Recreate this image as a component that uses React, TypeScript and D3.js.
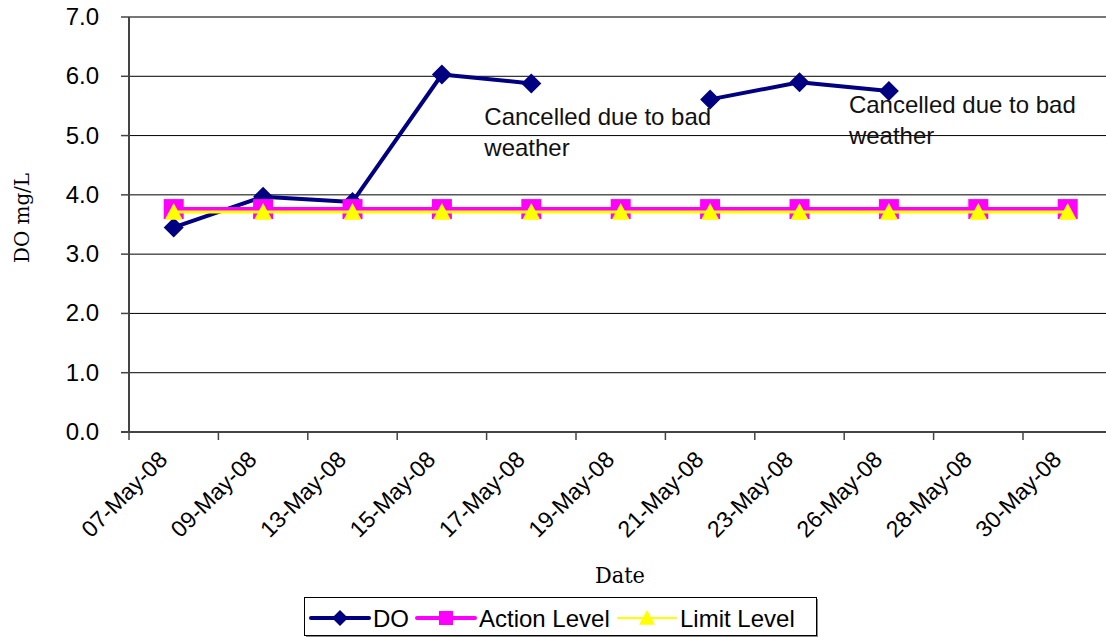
import React from 'react';
import * as d3 from 'd3';

const dates = ['07-May-08', '09-May-08', '13-May-08', '15-May-08', '17-May-08', '19-May-08',
  '21-May-08', '23-May-08', '26-May-08', '28-May-08', '30-May-08'];
const doValues: (number | null)[] = [3.45, 3.97, 3.88, 6.03, 5.88, null, 5.61, 5.9, 5.75, null, null];
const actionLevel = [3.76, 3.76, 3.76, 3.76, 3.76, 3.76, 3.76, 3.76, 3.76, 3.76, 3.76];
const limitLevel = [3.71, 3.71, 3.71, 3.71, 3.71, 3.71, 3.71, 3.71, 3.71, 3.71, 3.71];
const yTicks = [0, 1, 2, 3, 4, 5, 6, 7];
// notes placed relative to the point they follow
const notes = [
  { after: '17-May-08', lines: ['Cancelled due to bad', 'weather'], dx: -47, y0: 125 },
  { after: '26-May-08', lines: ['Cancelled due to bad', 'weather'], dx: -40, y0: 113 },
];

const W = 1106, H = 638;
const left = 129, top = 17, bottom = 432;
const band = 89.4;

const x = d3.scaleBand<string>().domain(dates).range([left, left + band * dates.length]);
const y = d3.scaleLinear().domain([0, 7]).range([bottom, top]);
const cx = (d: string) => (x(d) as number) + x.bandwidth() / 2;

const sans = 'Arial, "Liberation Sans", sans-serif';
const serif = '"DejaVu Serif", "Liberation Serif", serif';

const diamond = (s: number) => `M0,${-s}L${s},0L0,${s}L${-s},0Z`;
const square = (s: number) => `M${-s},${-s}H${s}V${s}H${-s}Z`;
const triangle = (s: number) => `M0,${-s}L${s},${s * 0.85}L${-s},${s * 0.85}Z`;

const Series = ({ values, color, width, marker }:
  { values: (number | null)[]; color: string; width: number; marker: string }) => {
  const line = d3.line<number | null>()
    .defined((d) => d !== null)
    .x((_, i) => cx(dates[i]))
    .y((d) => y(d as number));
  return (
    <g>
      <path d={line(values) || ''} fill="none" stroke={color} strokeWidth={width} strokeLinejoin="round" />
      {values.map((v, i) => v === null ? null : (
        <path key={i} d={marker} transform={`translate(${cx(dates[i])},${y(v)})`} fill={color} />
      ))}
    </g>
  );
};

export default function App() {
  const legend = [
    { label: 'DO', color: '#000080', width: 4, marker: diamond(8), x0: 311 },
    { label: 'Action Level', color: '#ff00ff', width: 4, marker: square(7), x0: 417 },
    { label: 'Limit Level', color: '#ffff00', width: 2, marker: triangle(8), x0: 618 },
  ];
  return (
    <svg width={W} height={H} style={{ position: 'absolute', left: 0, top: 0, background: '#fff' }}>
      {/* gridlines */}
      {yTicks.slice(1).map((t) => (
        <line key={t} x1={left} x2={W} y1={y(t)} y2={y(t)} stroke={t === 7 ? '#777' : '#000'} strokeWidth={t === 7 ? 2 : 1} />
      ))}
      {/* axes */}
      <line x1={left} x2={left} y1={top} y2={bottom + 1} stroke="#444" strokeWidth={2} />
      <line x1={left - 8} x2={W} y1={bottom} y2={bottom} stroke="#444" strokeWidth={2} />
      {yTicks.map((t) => (
        <g key={t}>
          <line x1={left - 8} x2={left} y1={y(t)} y2={y(t)} stroke="#444" strokeWidth={1.5} />
          <text x={99} y={y(t) + 8} textAnchor="end" fontFamily={sans} fontSize={24}>{t.toFixed(1)}</text>
        </g>
      ))}
      {dates.map((d, i) => (
        <g key={d}>
          <line x1={left + band * i} x2={left + band * i} y1={bottom} y2={bottom + 8} stroke="#444" strokeWidth={1.5} />
          <text transform={`translate(${cx(d) - 5},${bottom + 29}) rotate(-45)`} textAnchor="end"
            fontFamily={sans} fontSize={23}>{d}</text>
        </g>
      ))}
      <text transform="translate(29,218) rotate(-90)" textAnchor="middle" fontFamily={serif} fontSize={20}
        textLength={90} lengthAdjust="spacingAndGlyphs">DO mg/L</text>
      <text x={620} y={583} textAnchor="middle" fontFamily={serif} fontSize={22}
        textLength={50} lengthAdjust="spacingAndGlyphs">Date</text>

      <Series values={doValues} color="#000080" width={4} marker={diamond(10)} />
      <Series values={actionLevel} color="#ff00ff" width={4} marker={square(10)} />
      <Series values={limitLevel} color="#ffff00" width={3} marker={triangle(9)} />

      {notes.map((n) => (
        <text key={n.after} y={n.y0} fontFamily={sans} fontSize={24} fill="#111">
          {n.lines.map((l, i) => <tspan key={i} x={cx(n.after) + n.dx} dy={i ? 31 : 0}>{l}</tspan>)}
        </text>
      ))}

      {/* legend */}
      <rect x={306} y={599} width={512} height={38} fill="#888" />
      <rect x={304.5} y={597.5} width={512} height={38} fill="#fff" stroke="#000" strokeWidth={1} />
      {legend.map((l) => (
        <g key={l.label}>
          <line x1={l.x0} x2={l.x0 + 58} y1={618} y2={618} stroke={l.color} strokeWidth={l.width} strokeLinecap="round" />
          <path d={l.marker} transform={`translate(${l.x0 + 29},618)`} fill={l.color} />
          <text x={l.x0 + 62} y={627} fontFamily={sans} fontSize={24}>{l.label}</text>
        </g>
      ))}
    </svg>
  );
}
